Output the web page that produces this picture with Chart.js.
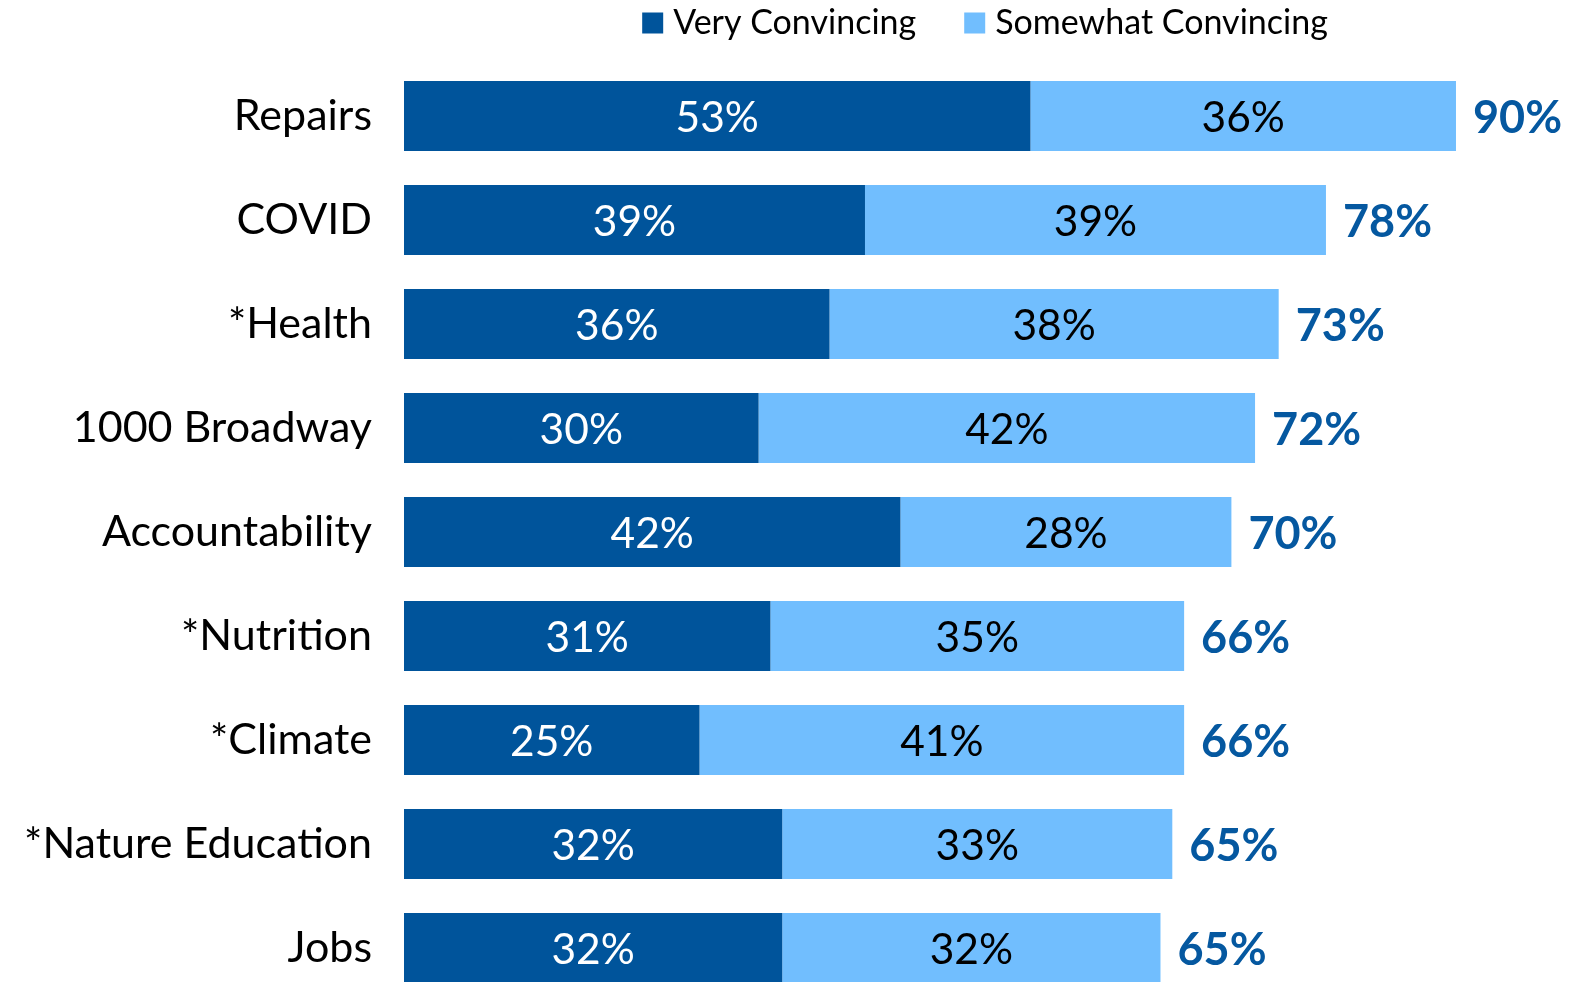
<!DOCTYPE html>
<html>
<head>
<meta charset="utf-8">
<script src="https://cdn.jsdelivr.net/npm/chart.js@4"></script>
<style>
  html, body { margin: 0; padding: 0; background: #fff; overflow: hidden; }
  #wrap { width: 1575px; height: 1000px; }
</style>
</head>
<body>
<div id="wrap"><canvas id="myChart" width="1575" height="1000"></canvas></div>
<script>
const categories = ['Repairs', 'COVID', '*Health', '1000 Broadway', 'Accountability',
    '*Nutrition', '*Climate', '*Nature Education', 'Jobs']
const veryConvincing = [53, 39, 36, 30, 42, 31, 25, 32, 32]
const somewhatConvincing = [36, 39, 38, 42, 28, 35, 41, 33, 32]
const totalLabels = ['90%', '78%', '73%', '72%', '70%', '66%', '66%', '65%', '65%']

const FONT = 'Lato'
const DARK = '#00549b'
const LIGHT = '#71befe'

// draws the numbers inside the bars and the totals after them
const barLabels = {
    id: 'barLabels',
    afterDatasetsDraw(chart) {
        const ctx = chart.ctx
        ctx.save()
        ctx.textBaseline = 'middle'
        chart.data.datasets.forEach((ds, i) => {
            const meta = chart.getDatasetMeta(i)
            meta.data.forEach((bar, j) => {
                ctx.font = '42.5px ' + FONT
                ctx.textAlign = 'center'
                ctx.fillStyle = i === 0 ? '#ffffff' : '#000000'
                ctx.fillText(ds.data[j] + '%', (bar.x + bar.base) / 2, bar.y + 2)
                if (i === chart.data.datasets.length - 1) {
                    ctx.font = 'bold 45px ' + FONT
                    ctx.textAlign = 'left'
                    ctx.fillStyle = '#0558a0'
                    ctx.fillText(totalLabels[j], bar.x + 17, bar.y + 2)
                }
            })
        })
        ctx.restore()
    }
}

// legend row above the plot, centred on the chart area
const topLegend = {
    id: 'topLegend',
    afterDraw(chart) {
        const ctx = chart.ctx
        const box = 21, gapText = 10, gapItem = 48
        ctx.save()
        ctx.font = '34px ' + FONT
        ctx.textBaseline = 'middle'
        ctx.textAlign = 'left'
        const items = chart.data.datasets.map(ds => ({
            text: ds.label, color: ds.backgroundColor, w: ctx.measureText(ds.label).width
        }))
        let total = 0
        items.forEach((it, i) => { total += box + gapText + it.w + (i > 0 ? gapItem : 0) })
        const area = chart.chartArea
        let x = (area.left + area.right) / 2 - total / 2 + 3
        const y = 23
        items.forEach(it => {
            ctx.fillStyle = it.color
            ctx.fillRect(x, y - box / 2, box, box)
            ctx.fillStyle = '#000'
            ctx.fillText(it.text, x + box + gapText, y)
            x += box + gapText + it.w + gapItem
        })
        ctx.restore()
    }
}

const ctx = document.getElementById('myChart').getContext('2d')
new Chart(ctx, {
    type: 'bar',
    data: {
        labels: categories,
        datasets: [{
            label: 'Very Convincing',
            data: veryConvincing,
            backgroundColor: DARK,
            categoryPercentage: 1,
            barPercentage: 0.672,
        }, {
            label: 'Somewhat Convincing',
            data: somewhatConvincing,
            backgroundColor: LIGHT,
            categoryPercentage: 1,
            barPercentage: 0.672,
        }]
    },
    options: {
        indexAxis: 'y',
        responsive: false,
        animation: false,
        layout: { padding: { top: 64, right: 15, bottom: 0, left: 0 } },
        scales: {
            x: {
                stacked: true,
                display: false,
                min: 0,
                max: 97.8,
            },
            y: {
                stacked: true,
                grid: { display: false },
                border: { display: false },
                ticks: {
                    color: '#000',
                    font: { family: FONT, size: 43 },
                    padding: 24,
                },
                afterFit(scale) {
                    scale.width = 404
                    scale.paddingTop = 0
                    scale.paddingBottom = 0
                }
            }
        },
        plugins: {
            legend: { display: false },
            tooltip: { enabled: false },
        }
    },
    plugins: [barLabels, topLegend]
})
</script>
</body>
</html>
